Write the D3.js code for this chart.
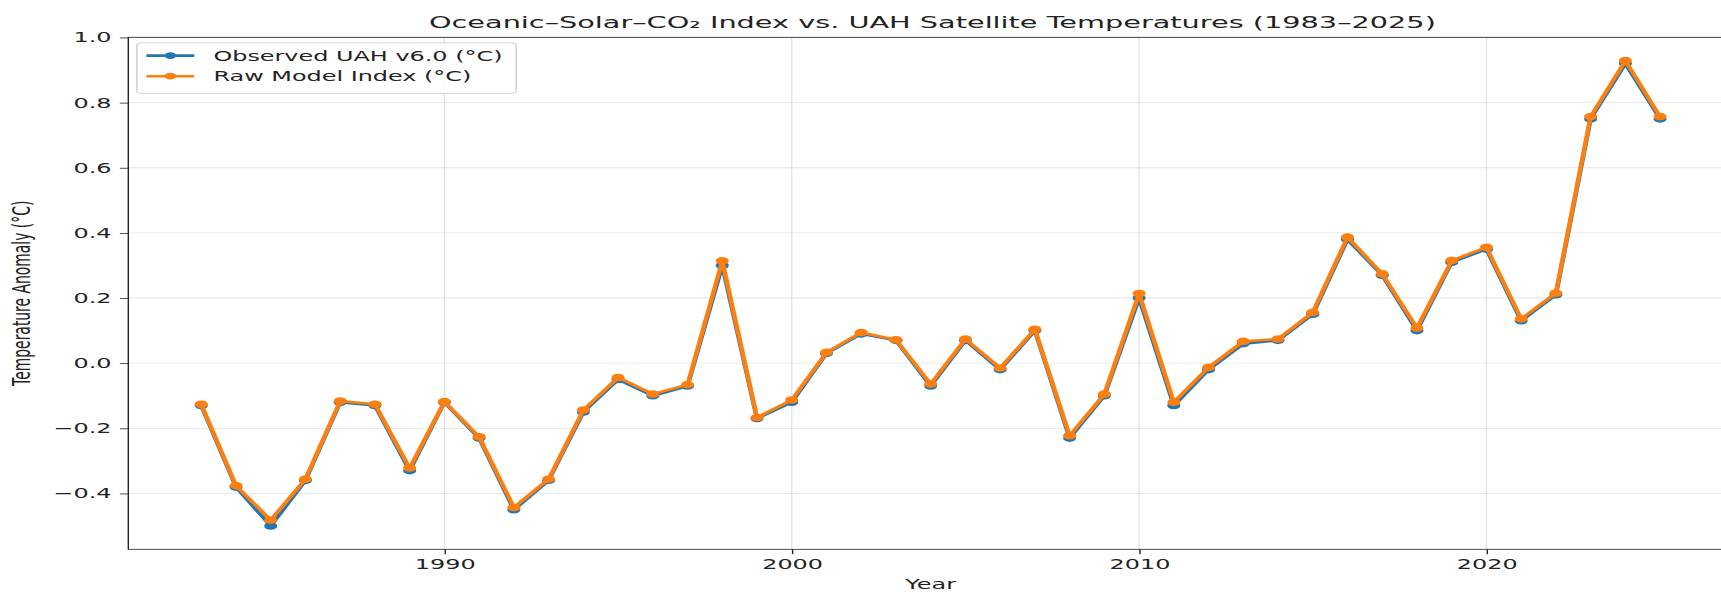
<!DOCTYPE html>
<html>
<head>
<meta charset="utf-8">
<script src="https://cdn.jsdelivr.net/npm/d3@7"></script>
<style>
  html, body { margin: 0; padding: 0; background: #fff; }
  svg { display: block; font-family: "DejaVu Sans", sans-serif; }
</style>
</head>
<body>
<svg id="chart"></svg>
<script>
// ---- data ----
const years = [1983,1984,1985,1986,1987,1988,1989,1990,1991,1992,1993,1994,1995,1996,1997,1998,1999,2000,2001,2002,2003,2004,2005,2006,2007,2008,2009,2010,2011,2012,2013,2014,2015,2016,2017,2018,2019,2020,2021,2022,2023,2024,2025];
const observedUAH = [-0.13,-0.38,-0.50,-0.36,-0.12,-0.13,-0.33,-0.12,-0.23,-0.45,-0.36,-0.15,-0.05,-0.10,-0.07,0.30,-0.17,-0.12,0.03,0.09,0.07,-0.07,0.07,-0.02,0.10,-0.23,-0.10,0.20,-0.13,-0.02,0.06,0.07,0.15,0.38,0.27,0.10,0.31,0.35,0.13,0.21,0.75,0.92,0.75];
const rawModel = [-0.126,-0.376,-0.482,-0.356,-0.116,-0.126,-0.322,-0.118,-0.226,-0.443,-0.356,-0.144,-0.044,-0.095,-0.066,0.314,-0.167,-0.113,0.033,0.094,0.072,-0.064,0.074,-0.015,0.104,-0.223,-0.095,0.214,-0.12,-0.013,0.067,0.074,0.156,0.387,0.274,0.108,0.315,0.356,0.136,0.215,0.757,0.929,0.757];
const seriesNames = ["Observed UAH v6.0 (°C)", "Raw Model Index (°C)"];
const seriesColors = ["#1f77b4", "#ff7f0e"];
const xTickValues = [1990, 2000, 2010, 2020];
const yTickValues = [-0.4, -0.2, 0.0, 0.2, 0.4, 0.6, 0.8, 1.0];
const titleText = "Oceanic–Solar–CO₂ Index vs. UAH Satellite Temperatures (1983–2025)";
const xLabelText = "Year";
const yLabelText = "Temperature Anomaly (°C)";

// ---- layout (figure is horizontally stretched, like the reference) ----
const W = 1721, H = 592;
const stretch = 1.721;
const VW = W / stretch;
const plot = { left: 74.55, right: 1007, top: 37.3, bottom: 549.3 };
const fs = 13.9, titleFs = 16.7;

const svg = d3.select("#chart")
  .attr("width", W).attr("height", H)
  .attr("viewBox", `0 0 ${VW} ${H}`)
  .attr("preserveAspectRatio", "none");

svg.append("rect").attr("width", VW).attr("height", H).attr("fill", "#fff");

// scales with matplotlib-like 5% margins
const xExt = d3.extent(years);
const xPad = (xExt[1] - xExt[0]) * 0.05;
const x = d3.scaleLinear().domain([xExt[0] - xPad, xExt[1] + xPad]).range([plot.left, plot.right]);
const allY = observedUAH.concat(rawModel);
const yExt = d3.extent(allY);
const yPad = (yExt[1] - yExt[0]) * 0.05;
const y = d3.scaleLinear().domain([yExt[0] - yPad, yExt[1] + yPad]).range([plot.bottom, plot.top]);

// clip
svg.append("clipPath").attr("id", "clip").append("rect")
  .attr("x", plot.left).attr("y", plot.top)
  .attr("width", plot.right - plot.left).attr("height", plot.bottom - plot.top);

// grid
const grid = svg.append("g").attr("stroke", "#b0b0b0").attr("stroke-opacity", 0.35).attr("stroke-width", 0.8);
grid.selectAll(".gx").data(xTickValues).join("line")
  .attr("x1", d => x(d)).attr("x2", d => x(d))
  .attr("y1", plot.top).attr("y2", plot.bottom);
grid.selectAll(".gy").data(yTickValues).join("line")
  .attr("x1", plot.left).attr("x2", plot.right)
  .attr("y1", d => y(d)).attr("y2", d => y(d));

// series
[observedUAH, rawModel].forEach((vals, si) => {
  const g = svg.append("g").attr("clip-path", "url(#clip)");
  g.append("path")
    .attr("d", d3.line().x((d, i) => x(years[i])).y(d => y(d))(vals))
    .attr("fill", "none").attr("stroke", seriesColors[si])
    .attr("stroke-width", 2.6).attr("stroke-linejoin", "round").attr("stroke-linecap", "square");
  g.selectAll("circle").data(vals).join("circle")
    .attr("cx", (d, i) => x(years[i])).attr("cy", d => y(d))
    .attr("r", 3.8).attr("fill", seriesColors[si]);
});

// axes
const fmtY = d => d3.format(".1f")(d).replace("-", "−");
const xAxis = svg.append("g").attr("transform", `translate(0,${plot.bottom})`)
  .call(d3.axisBottom(x).tickValues(xTickValues).tickFormat(d3.format("d")).tickSize(4.9).tickPadding(4.9));
const yAxis = svg.append("g").attr("transform", `translate(${plot.left},0)`)
  .call(d3.axisLeft(y).tickValues(yTickValues).tickFormat(fmtY).tickSize(4.9).tickPadding(4.9));
[xAxis, yAxis].forEach(a => {
  a.select(".domain").remove();
  a.selectAll(".tick line").attr("stroke", "#222").attr("stroke-width", 0.8);
  a.selectAll(".tick text").attr("fill", "#222").attr("font-size", fs).attr("font-family", "DejaVu Sans");
});

// spines
svg.append("rect")
  .attr("x", plot.left).attr("y", plot.top)
  .attr("width", plot.right - plot.left).attr("height", plot.bottom - plot.top)
  .attr("fill", "none").attr("stroke", "#222").attr("stroke-width", 0.8);

// title & labels
svg.append("text").attr("x", (plot.left + plot.right) / 2 + 1).attr("y", 28)
  .attr("text-anchor", "middle").attr("font-size", titleFs).attr("fill", "#222").text(titleText);
svg.append("text").attr("x", (plot.left + plot.right) / 2).attr("y", 589)
  .attr("text-anchor", "middle").attr("font-size", fs).attr("fill", "#222").text(xLabelText);
svg.append("text")
  .attr("transform", `translate(17.5,${(plot.top + plot.bottom) / 2}) rotate(-90)`)
  .attr("text-anchor", "middle").attr("font-size", fs).attr("fill", "#222").text(yLabelText);

// legend
const lg = svg.append("g").attr("transform", `translate(${plot.left + 5},${plot.top + 5.5})`);
const lgBox = lg.append("rect").attr("x", 0).attr("y", 0).attr("rx", 2.8).attr("ry", 2.8)
  .attr("height", 50.5).attr("fill", "#fff").attr("fill-opacity", 0.8)
  .attr("stroke", "#cccccc").attr("stroke-width", 0.8);
let maxW = 0;
seriesNames.forEach((name, i) => {
  const cy = 12.8 + i * 20.6;
  lg.append("line").attr("x1", 5.56).attr("x2", 5.56 + 27.8).attr("y1", cy).attr("y2", cy)
    .attr("stroke", seriesColors[i]).attr("stroke-width", 2.6);
  lg.append("circle").attr("cx", 5.56 + 13.9).attr("cy", cy).attr("r", 3.4).attr("fill", seriesColors[i]);
  const t = lg.append("text").attr("x", 5.56 + 27.8 + 11.1).attr("y", cy).attr("dy", "0.36em")
    .attr("font-size", fs).attr("fill", "#222").text(name);
  maxW = Math.max(maxW, t.node().getComputedTextLength());
});
lgBox.attr("width", 5.56 + 27.8 + 11.1 + maxW + 8);
</script>
</body>
</html>
